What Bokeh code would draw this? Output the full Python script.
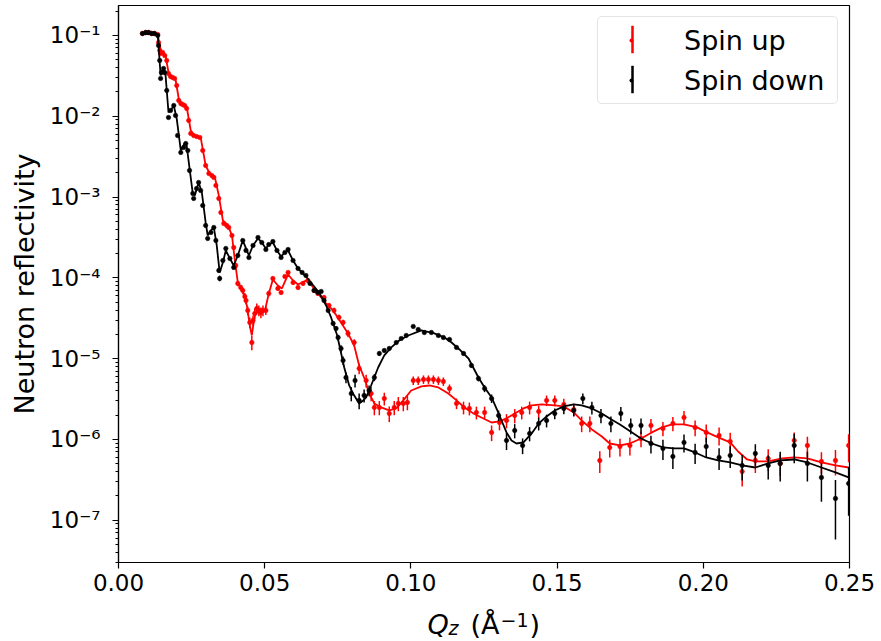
import numpy as np
from bokeh.plotting import figure
from bokeh.layouts import column
from bokeh.models import (FixedTicker, CustomJSTickFormatter, Label, Legend,
                          LegendItem, Range1d, PrintfTickFormatter, BoxAnnotation)
from bokeh.embed import file_html
from bokeh.resources import INLINE

# ---------------- data ----------------
# Spin up: Q (1/A), log10(R), relative error
q_up = [0.0082, 0.0093, 0.0103, 0.0113, 0.0123, 0.0134, 0.0137, 0.0141, 0.0144, 0.0151,
        0.0158, 0.0165, 0.0171, 0.0178, 0.0185, 0.0192, 0.0199, 0.0206, 0.0213, 0.0219,
        0.0226, 0.0233, 0.0240, 0.0247, 0.0257, 0.0267, 0.0278, 0.0288, 0.0298, 0.0309,
        0.0319, 0.0326, 0.0333, 0.0343, 0.0350, 0.0360, 0.0370, 0.0377, 0.0388, 0.0394,
        0.0401, 0.0408, 0.0418, 0.0425, 0.0432, 0.0436, 0.0442, 0.0449, 0.0456, 0.0460,
        0.0466, 0.0473, 0.0480, 0.0487, 0.0494, 0.0504, 0.0514, 0.0528, 0.0545, 0.0556,
        0.0569, 0.0580, 0.0597, 0.0614, 0.0631, 0.0648, 0.0669, 0.0682, 0.0703, 0.0720,
        0.0737, 0.0754, 0.0768, 0.0785, 0.0806, 0.0823, 0.0847, 0.0864, 0.0875, 0.0892,
        0.0909, 0.0926, 0.0943, 0.0957, 0.0974, 0.0988, 0.1008, 0.1025, 0.1043, 0.1060,
        0.1077, 0.1094, 0.1111, 0.1132, 0.1156, 0.1180, 0.1200, 0.1224, 0.1252, 0.1276,
        0.1303, 0.1327, 0.1355, 0.1379, 0.1406, 0.1437, 0.1464, 0.1492, 0.1523, 0.1557,
        0.1584, 0.1612, 0.1646, 0.1680, 0.1715, 0.1749, 0.1787, 0.1821, 0.1862, 0.1896,
        0.1934, 0.1972, 0.2010, 0.2054, 0.2092, 0.2133, 0.2178, 0.2222, 0.2263, 0.2311,
        0.2356, 0.2404, 0.2452, 0.2497]
logr_up = [-0.975, -0.963, -0.963, -0.975, -0.975, -0.988, -1.087, -1.186, -1.223, -1.210,
           -1.248, -1.309, -1.470, -1.507, -1.520, -1.532, -1.619, -1.804, -1.842, -1.854,
           -1.866, -1.903, -2.052, -2.213, -2.238, -2.250, -2.262, -2.423, -2.609, -2.708,
           -2.733, -2.757, -2.856, -3.017, -3.191, -3.327, -3.351, -3.376, -3.475, -3.624,
           -3.847, -4.069, -4.119, -4.156, -4.230, -4.280, -4.403, -4.552, -4.800, -4.527,
           -4.441, -4.379, -4.403, -4.428, -4.403, -4.403, -4.193, -4.007, -4.131, -4.181,
           -3.983, -3.933, -4.057, -4.119, -4.069, -4.032, -4.156, -4.193, -4.243, -4.342,
           -4.403, -4.490, -4.552, -4.688, -4.800, -5.121, -5.270, -5.431, -5.604, -5.604,
           -5.493, -5.678, -5.604, -5.554, -5.554, -5.542, -5.270, -5.270, -5.257, -5.257,
           -5.257, -5.270, -5.282, -5.369, -5.554, -5.604, -5.616, -5.666, -5.666, -5.913,
           -5.790, -5.765, -5.703, -5.666, -5.604, -5.653, -5.517, -5.517, -5.567, -5.629,
           -5.802, -5.802, -6.260, -6.099, -6.087, -6.074, -5.988, -5.827, -5.864, -5.802,
           -5.728, -5.851, -5.913, -5.950, -6.025, -6.396, -6.260, -6.235, -6.297, -6.012,
           -6.074, -6.272, -6.260, -6.074]
err_up = [0.02, 0.02, 0.02, 0.02, 0.02, 0.02, 0.02, 0.02, 0.02, 0.02,
          0.02, 0.02, 0.02, 0.02, 0.02, 0.02, 0.02, 0.02, 0.02, 0.02,
          0.02, 0.02, 0.02, 0.02, 0.02, 0.02, 0.02, 0.02, 0.02, 0.02,
          0.02, 0.02, 0.02, 0.02, 0.04, 0.04, 0.04, 0.04, 0.05, 0.06,
          0.08, 0.08, 0.08, 0.08, 0.10, 0.10, 0.12, 0.15, 0.20, 0.15,
          0.15, 0.15, 0.15, 0.15, 0.15, 0.12, 0.08, 0.06, 0.06, 0.06,
          0.05, 0.05, 0.06, 0.06, 0.06, 0.06, 0.06, 0.06, 0.07, 0.07,
          0.08, 0.08, 0.08, 0.10, 0.10, 0.15, 0.18, 0.20, 0.20, 0.20,
          0.18, 0.22, 0.20, 0.20, 0.20, 0.20, 0.12, 0.12, 0.12, 0.12,
          0.12, 0.12, 0.12, 0.12, 0.15, 0.18, 0.18, 0.18, 0.18, 0.22,
          0.20, 0.20, 0.20, 0.18, 0.18, 0.18, 0.15, 0.15, 0.18, 0.18,
          0.22, 0.22, 0.30, 0.25, 0.25, 0.25, 0.22, 0.20, 0.20, 0.20,
          0.20, 0.22, 0.25, 0.25, 0.28, 0.35, 0.30, 0.30, 0.30, 0.25,
          0.28, 0.30, 0.35, 0.38]

# Spin down
q_dn = [0.0082, 0.0093, 0.0103, 0.0113, 0.0123, 0.0134, 0.0137, 0.0141, 0.0144, 0.0147,
        0.0154, 0.0158, 0.0165, 0.0171, 0.0178, 0.0189, 0.0195, 0.0202, 0.0213, 0.0223,
        0.0230, 0.0237, 0.0243, 0.0254, 0.0257, 0.0267, 0.0274, 0.0281, 0.0288, 0.0298,
        0.0305, 0.0316, 0.0326, 0.0333, 0.0343, 0.0346, 0.0357, 0.0367, 0.0381, 0.0394,
        0.0408, 0.0425, 0.0436, 0.0446, 0.0460, 0.0477, 0.0490, 0.0504, 0.0514, 0.0528,
        0.0542, 0.0556, 0.0569, 0.0580, 0.0597, 0.0614, 0.0628, 0.0641, 0.0655, 0.0669,
        0.0682, 0.0693, 0.0703, 0.0717, 0.0734, 0.0744, 0.0751, 0.0761, 0.0768, 0.0778,
        0.0796, 0.0809, 0.0823, 0.0840, 0.0857, 0.0875, 0.0892, 0.0909, 0.0926, 0.0950,
        0.0967, 0.0984, 0.1008, 0.1025, 0.1046, 0.1070, 0.1094, 0.1111, 0.1132, 0.1156,
        0.1180, 0.1207, 0.1231, 0.1252, 0.1276, 0.1300, 0.1327, 0.1355, 0.1382, 0.1406,
        0.1437, 0.1464, 0.1492, 0.1523, 0.1557, 0.1588, 0.1619, 0.1650, 0.1684, 0.1718,
        0.1752, 0.1787, 0.1821, 0.1862, 0.1896, 0.1934, 0.1972, 0.2010, 0.2054, 0.2092,
        0.2133, 0.2178, 0.2222, 0.2263, 0.2311, 0.2356, 0.2404, 0.2452, 0.2497]
logr_dn = [-0.975, -0.963, -0.963, -0.975, -0.975, -1.000, -1.124, -1.309, -1.532, -1.458,
           -1.408, -1.458, -1.681, -2.015, -1.928, -1.866, -1.990, -2.238, -2.448, -2.386,
           -2.337, -2.423, -2.671, -2.955, -3.017, -2.894, -2.819, -2.918, -3.104, -3.351,
           -3.512, -3.438, -3.376, -3.537, -3.908, -4.007, -3.785, -3.636, -3.760, -3.871,
           -3.723, -3.537, -3.661, -3.748, -3.599, -3.500, -3.562, -3.649, -3.587, -3.550,
           -3.661, -3.748, -3.686, -3.649, -3.785, -3.884, -3.933, -3.970, -4.069, -4.156,
           -4.181, -4.168, -4.280, -4.403, -4.564, -4.626, -4.738, -4.874, -5.022, -5.233,
           -5.431, -5.270, -5.517, -5.455, -5.394, -5.233, -4.936, -4.899, -4.874, -4.800,
           -4.750, -4.713, -4.601, -4.639, -4.676, -4.676, -4.713, -4.738, -4.762, -4.861,
           -4.936, -5.084, -5.245, -5.369, -5.493, -5.703, -6.012, -5.889, -6.074, -5.926,
           -5.802, -5.765, -5.678, -5.616, -5.641, -5.493, -5.604, -5.703, -5.802, -5.678,
           -5.827, -5.827, -6.050, -6.111, -6.210, -6.037, -6.161, -6.087, -6.223, -6.198,
           -6.322, -6.173, -6.322, -6.297, -6.074, -6.297, -6.470, -6.730, -6.545]
err_dn = [0.02, 0.02, 0.02, 0.02, 0.02, 0.02, 0.02, 0.02, 0.02, 0.02,
          0.02, 0.02, 0.02, 0.02, 0.02, 0.02, 0.02, 0.02, 0.02, 0.02,
          0.02, 0.02, 0.02, 0.02, 0.02, 0.03, 0.03, 0.03, 0.03, 0.03,
          0.04, 0.04, 0.04, 0.04, 0.06, 0.08, 0.05, 0.04, 0.04, 0.05,
          0.04, 0.04, 0.04, 0.04, 0.04, 0.04, 0.04, 0.04, 0.04, 0.04,
          0.04, 0.04, 0.04, 0.04, 0.04, 0.04, 0.04, 0.04, 0.04, 0.04,
          0.04, 0.04, 0.05, 0.05, 0.06, 0.06, 0.08, 0.10, 0.12, 0.15,
          0.20, 0.18, 0.22, 0.18, 0.15, 0.10, 0.06, 0.05, 0.05, 0.04,
          0.04, 0.04, 0.04, 0.04, 0.04, 0.04, 0.04, 0.04, 0.04, 0.04,
          0.05, 0.06, 0.08, 0.10, 0.12, 0.15, 0.24, 0.20, 0.22, 0.20,
          0.18, 0.18, 0.15, 0.15, 0.15, 0.15, 0.18, 0.20, 0.22, 0.20,
          0.22, 0.22, 0.25, 0.28, 0.30, 0.25, 0.28, 0.28, 0.30, 0.30,
          0.35, 0.30, 0.33, 0.40, 0.40, 0.40, 0.50, 0.69, 0.60]

# Model (fit) curves
q_fit_up = [0.0082, 0.0134, 0.0141, 0.0147, 0.0161, 0.0171, 0.0178, 0.0195, 0.0206, 0.0216,
            0.0233, 0.0247, 0.0261, 0.0281, 0.0298, 0.0312, 0.0329, 0.0343, 0.0357, 0.0374,
            0.0388, 0.0398, 0.0408, 0.0425, 0.0439, 0.0449, 0.0456, 0.0466, 0.0480, 0.0501,
            0.0514, 0.0528, 0.0545, 0.0559, 0.0580, 0.0597, 0.0614, 0.0641, 0.0658, 0.0682,
            0.0710, 0.0734, 0.0761, 0.0785, 0.0806, 0.0823, 0.0844, 0.0857, 0.0875, 0.0898,
            0.0926, 0.0950, 0.0974, 0.1001, 0.1036, 0.1063, 0.1094, 0.1128, 0.1156, 0.1183,
            0.1214, 0.1241, 0.1276, 0.1303, 0.1327, 0.1355, 0.1385, 0.1413, 0.1447, 0.1492,
            0.1523, 0.1557, 0.1584, 0.1619, 0.1653, 0.1680, 0.1715, 0.1749, 0.1787, 0.1824,
            0.1859, 0.1893, 0.1934, 0.1979, 0.2013, 0.2051, 0.2092, 0.2119, 0.2150, 0.2178,
            0.2222, 0.2270, 0.2311, 0.2356, 0.2404, 0.2452, 0.2497]
logr_fit_up = [-0.975, -0.988, -1.124, -1.223, -1.248, -1.458, -1.507, -1.545, -1.780, -1.842,
               -1.879, -2.176, -2.238, -2.262, -2.609, -2.708, -2.745, -2.980, -3.290, -3.351,
               -3.475, -3.785, -4.057, -4.168, -4.342, -4.589, -4.713, -4.465, -4.391, -4.403,
               -4.193, -4.020, -4.094, -4.131, -3.958, -4.032, -4.082, -4.032, -4.082, -4.193,
               -4.317, -4.403, -4.552, -4.688, -4.837, -5.084, -5.270, -5.431, -5.554, -5.604,
               -5.641, -5.616, -5.517, -5.394, -5.344, -5.332, -5.356, -5.431, -5.517, -5.604,
               -5.678, -5.728, -5.790, -5.777, -5.740, -5.678, -5.616, -5.579, -5.567, -5.579,
               -5.591, -5.666, -5.765, -5.876, -5.963, -6.050, -6.074, -6.050, -5.988, -5.913,
               -5.851, -5.814, -5.814, -5.851, -5.913, -5.975, -6.037, -6.149, -6.248, -6.272,
               -6.272, -6.235, -6.223, -6.235, -6.285, -6.322, -6.347]
q_fit_dn = [0.0082, 0.0134, 0.0137, 0.0144, 0.0154, 0.0161, 0.0171, 0.0178, 0.0189, 0.0199,
            0.0213, 0.0226, 0.0233, 0.0243, 0.0254, 0.0261, 0.0274, 0.0285, 0.0298, 0.0305,
            0.0316, 0.0326, 0.0336, 0.0346, 0.0357, 0.0367, 0.0381, 0.0394, 0.0408, 0.0425,
            0.0436, 0.0446, 0.0460, 0.0477, 0.0490, 0.0504, 0.0514, 0.0528, 0.0542, 0.0556,
            0.0569, 0.0580, 0.0597, 0.0614, 0.0641, 0.0658, 0.0686, 0.0710, 0.0727, 0.0748,
            0.0772, 0.0789, 0.0802, 0.0823, 0.0837, 0.0847, 0.0864, 0.0888, 0.0909, 0.0933,
            0.0960, 0.0991, 0.1036, 0.1080, 0.1115, 0.1139, 0.1166, 0.1197, 0.1231, 0.1252,
            0.1276, 0.1300, 0.1310, 0.1327, 0.1344, 0.1361, 0.1385, 0.1413, 0.1437, 0.1464,
            0.1492, 0.1523, 0.1557, 0.1584, 0.1619, 0.1653, 0.1680, 0.1715, 0.1746, 0.1787,
            0.1824, 0.1862, 0.1900, 0.1934, 0.1972, 0.2010, 0.2051, 0.2092, 0.2133, 0.2178,
            0.2222, 0.2263, 0.2311, 0.2356, 0.2404, 0.2452, 0.2497]
logr_fit_dn = [-0.975, -0.988, -1.124, -1.495, -1.408, -1.495, -1.953, -1.928, -1.866, -2.027,
               -2.423, -2.337, -2.361, -2.646, -2.955, -2.980, -2.819, -2.943, -3.314, -3.475,
               -3.413, -3.376, -3.599, -3.933, -3.809, -3.661, -3.760, -3.847, -3.723, -3.537,
               -3.636, -3.723, -3.599, -3.512, -3.562, -3.636, -3.587, -3.562, -3.661, -3.735,
               -3.686, -3.661, -3.785, -3.884, -3.983, -4.057, -4.181, -4.342, -4.490, -4.713,
               -5.109, -5.332, -5.431, -5.554, -5.517, -5.480, -5.332, -5.109, -4.960, -4.861,
               -4.775, -4.713, -4.651, -4.688, -4.738, -4.800, -4.886, -4.998, -5.233, -5.356,
               -5.480, -5.678, -5.765, -5.913, -6.012, -6.050, -6.037, -5.926, -5.802, -5.715,
               -5.641, -5.591, -5.567, -5.579, -5.616, -5.678, -5.740, -5.814, -5.889, -5.988,
               -6.050, -6.099, -6.111, -6.111, -6.161, -6.223, -6.260, -6.285, -6.322, -6.347,
               -6.297, -6.260, -6.248, -6.285, -6.347, -6.408, -6.470]

x_ticks = [0.0, 0.05, 0.10, 0.15, 0.20, 0.25]
y_decades = [-7, -6, -5, -4, -3, -2, -1]
series_labels = ["Spin up", "Spin down"]
series_colors = ["#ff0000", "#000000"]

FONT = "DejaVu Sans"

# ---------------- main figure ----------------
p = figure(width=881, height=602, y_axis_type="log",
           x_range=Range1d(0.0, 0.25), y_range=Range1d(3.0e-8, 0.235),
           output_backend="svg", toolbar_location=None,
           min_border_left=118, min_border_right=32, min_border_top=5,
           min_border_bottom=40)
p.frame_align = False
p.grid.visible = False
p.outline_line_color = "black"
p.outline_line_width = 1.2
p.background_fill_color = "white"
p.border_fill_color = "white"


def draw_series(q, logr, err, q_fit, logr_fit, color):
    q = np.array(q)
    r = 10.0 ** np.array(logr)
    e = r * np.array(err)
    p.line(np.array(q_fit), 10.0 ** np.array(logr_fit), line_color=color, line_width=1.8)
    p.segment(x0=q, y0=r - e, x1=q, y1=r + e, line_color=color, line_width=1.5)
    p.scatter(q, r, marker="circle", size=4.5, fill_color=color, line_color=color, line_width=0.5)
    return q[:1], r[:1]


anchors = [draw_series(q_up, logr_up, err_up, q_fit_up, logr_fit_up, series_colors[0]),
           draw_series(q_dn, logr_dn, err_dn, q_fit_dn, logr_fit_dn, series_colors[1])]

# legend: proxy renderers of zero size on the plot (dot), error-bar stroke added below
items = []
for lab, col, (qa, ra) in zip(series_labels, series_colors, anchors):
    dot = p.scatter(x=qa, y=ra, marker="dot", size=0, line_color=col, fill_color=col)
    items.append(LegendItem(label=lab, renderers=[dot]))

LEG_PAD, LEG_GW, LEG_GH, LEG_MARGIN, LEG_LW = 3, 60, 40, 11, 150
legend = Legend(items=items, location="top_right", margin=LEG_MARGIN, padding=LEG_PAD,
                spacing=0, glyph_width=LEG_GW, glyph_height=LEG_GH, label_standoff=23,
                label_width=LEG_LW, label_text_font=FONT, label_text_font_size="27px",
                label_text_color="black", label_text_baseline="middle",
                border_line_color="#cccccc", border_line_width=1.5,
                background_fill_color="white", background_fill_alpha=0.0)
if "border_radius" in Legend.properties():
    legend.border_radius = 5
p.add_layout(legend)

# vertical error-bar strokes of the legend glyphs (screen units, relative to the frame)
frame_w = 881 - 118 - 32
frame_h = 602 - 5 - 40
leg_w = 2 * LEG_PAD + LEG_GW + 23 + LEG_LW
gx = frame_w - LEG_MARGIN - leg_w + LEG_PAD + LEG_GW / 2
for i, col in enumerate(series_colors):
    gy = frame_h - LEG_MARGIN - LEG_PAD - LEG_GH / 2 - i * LEG_GH
    p.add_layout(BoxAnnotation(left=gx - 1.0, right=gx + 1.0, bottom=gy - 13.5, top=gy + 13.5,
                               left_units="screen", right_units="screen",
                               bottom_units="screen", top_units="screen",
                               fill_color=col, fill_alpha=1.0, line_color=col,
                               line_width=0.5, line_alpha=1.0, level="overlay"))

# ---------------- axes ----------------
xa = p.xaxis[0]
xa.ticker = FixedTicker(ticks=x_ticks)
xa.formatter = PrintfTickFormatter(format="%.2f")
ya = p.yaxis[0]
majors = [10.0 ** d for d in y_decades]
minors = [k * 10.0 ** d for d in [-8] + y_decades for k in range(2, 10)]
ya.ticker = FixedTicker(ticks=majors, minor_ticks=minors)
ya.formatter = CustomJSTickFormatter(code="""
const sup = {"-": "\u207b", "0": "\u2070", "1": "\u00b9", "2": "\u00b2", "3": "\u00b3",
             "4": "\u2074", "5": "\u2075", "6": "\u2076", "7": "\u2077", "8": "\u2078", "9": "\u2079"};
const e = Math.round(Math.log10(tick));
return "10" + String(e).split("").map(c => sup[c]).join("");
""")
for ax in (xa, ya):
    ax.axis_line_color = "black"
    ax.axis_line_width = 1.2
    ax.major_tick_line_color = "black"
    ax.major_tick_line_width = 1.2
    ax.major_tick_in = 0
    ax.major_tick_out = 6
    ax.minor_tick_in = 0
    ax.minor_tick_out = 3
    ax.minor_tick_line_width = 1.0
    ax.major_label_text_font = FONT
    ax.major_label_text_font_size = "23px"
    ax.major_label_text_color = "black"
ya.minor_tick_line_color = "black"
xa.minor_tick_line_color = None
xa.major_label_standoff = 5
ya.major_label_standoff = 12

ya.axis_label = "Neutron reflectivity"
ya.axis_label_text_font = FONT
ya.axis_label_text_font_size = "27px"
ya.axis_label_text_font_style = "normal"
ya.axis_label_text_color = "black"
ya.axis_label_standoff = 7

# ---------------- x-axis title strip: italic Q, subscript z, (Å, superscript −1, ) ----------------
p2 = figure(width=881, height=37, x_range=Range1d(0, 1), y_range=Range1d(0, 1),
            output_backend="svg", toolbar_location=None,
            x_axis_location=None, y_axis_location=None,
            min_border=0, min_border_left=0, min_border_right=0,
            min_border_top=0, min_border_bottom=0)
p2.frame_align = False
p2.outline_line_color = None
p2.grid.visible = False
p2.background_fill_color = "white"
p2.border_fill_color = "white"
pieces = [("Q", "italic", "27px", 427, 15),
          ("z", "italic", "19px", 448, 12),
          ("(\u00c5", "normal", "27px", 470, 15),
          ("\u22121", "normal", "19px", 500, 20),
          (")", "normal", "27px", 529, 15)]
for txt, style, size, sx, sy in pieces:
    p2.add_layout(Label(x=sx, y=sy, x_units="screen", y_units="screen",
                        text=txt, text_font=FONT, text_font_style=style,
                        text_font_size=size, text_color="black",
                        text_align="left", text_baseline="alphabetic"))

layout = column(p, p2, spacing=0)
open("out.html", "w").write(file_html(layout, INLINE))
